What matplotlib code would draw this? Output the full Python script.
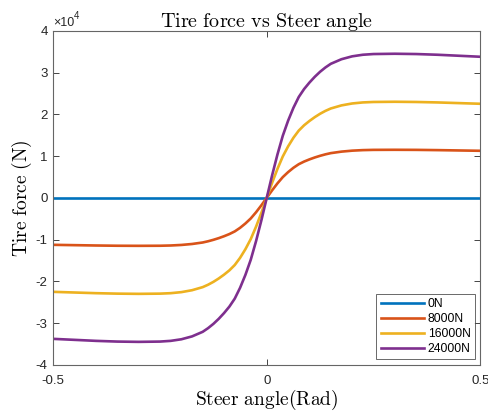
import matplotlib
matplotlib.use("Agg")
import matplotlib.pyplot as plt
import numpy as np

# angolo di sterzo [rad] e forza laterale [N]
steer = [-0.5, -0.45, -0.4, -0.35, -0.3, -0.25, -0.225, -0.2, -0.175, -0.15,
         -0.1375, -0.125, -0.1125, -0.1, -0.0875, -0.075, -0.0625, -0.05,
         -0.0375, -0.025, -0.0125, 0.0, 0.0125, 0.025, 0.0375, 0.05, 0.0625,
         0.075, 0.0875, 0.1, 0.1125, 0.125, 0.1375, 0.15, 0.175, 0.2, 0.225,
         0.25, 0.3, 0.35, 0.4, 0.45, 0.5]

f_0N = [0.0] * 43

f_8000N = [-11260, -11340, -11420, -11480, -11500, -11480, -11420, -11290, -11060, -10700,
           -10410, -10060, -9660, -9200, -8680, -8050, -7190, -6150,
           -4950, -3450, -1780, 0, 1780, 3450, 4950, 6150, 7190,
           8050, 8680, 9200, 9660, 10060, 10410, 10700, 11060, 11290, 11420,
           11480, 11500, 11480, 11420, 11340, 11260]

f_16000N = [-22520, -22680, -22840, -22950, -23000, -22950, -22840, -22590, -22130, -21390,
            -20820, -20130, -19320, -18400, -17370, -16100, -14380, -12310,
            -9890, -6900, -3570, 0, 3570, 6900, 9890, 12310, 14380,
            16100, 17370, 18400, 19320, 20130, 20820, 21390, 22130, 22590, 22840,
            22950, 23000, 22950, 22840, 22680, 22520]

f_24000N = [-33780, -34020, -34260, -34430, -34500, -34430, -34260, -33880, -33190, -32090,
            -31220, -30190, -28980, -27600, -26050, -24150, -21560, -18460,
            -14840, -10350, -5350, 0, 5350, 10350, 14840, 18460, 21560,
            24150, 26050, 27600, 28980, 30190, 31220, 32090, 33190, 33880, 34260,
            34430, 34500, 34430, 34260, 34020, 33780]

carichi = ["0N", "8000N", "16000N", "24000N"]
colori = ["#0072BD", "#D95319", "#EDB120", "#7E2F8E"]

plt.rcParams['mathtext.fontset'] = 'cm'
plt.rcParams['font.family'] = ['Liberation Sans', 'DejaVu Sans']

fig = plt.figure(figsize=(4.89, 4.16), dpi=100)
ax = fig.add_axes([0.109, 0.123, 0.873, 0.803])

for f, nome, c in zip([f_0N, f_8000N, f_16000N, f_24000N], carichi, colori):
    ax.plot(steer, f, "-", color=c, lw=1.9, label=nome)

ax.set_xlim(-0.5, 0.5)
ax.set_ylim(-40000, 40000)
ax.set_xticks([-0.5, 0, 0.5])
ax.set_xticklabels(["-0.5", "0", "0.5"])
ax.set_yticks(np.arange(-40000, 40001, 10000))
ax.set_yticklabels(["-4", "-3", "-2", "-1", "0", "1", "2", "3", "4"])
ax.text(0.0, 1.004, "×10", transform=ax.transAxes, fontsize=9,
        color="#262626", ha="left", va="bottom")
ax.text(0.049, 1.03, "4", transform=ax.transAxes, fontsize=7,
        color="#262626", ha="left", va="bottom")

ax.tick_params(direction="in", top=True, right=True, length=4, width=0.6,
               labelsize=9.5, colors="#262626")
ax.tick_params(axis="x", pad=7)
ax.tick_params(axis="y", pad=4)
for s in ax.spines.values():
    s.set_color("#666666")
    s.set_linewidth(0.8)

ax.set_title(r"$\mathrm{Tire\ force\ vs\ Steer\ angle}$", fontsize=14.5, pad=3)
ax.set_xlabel(r"$\mathrm{Steer\ angle(Rad)}$", fontsize=14, labelpad=1)
ax.set_ylabel(r"$\mathrm{Tire\ force\ (N)}$", fontsize=14, labelpad=1)

leg = ax.legend(loc="lower right", fontsize=8.7, frameon=True, fancybox=False,
                handlelength=3.6, borderpad=0.35, labelspacing=0.25,
                handletextpad=0.3, borderaxespad=0.45)
leg.get_frame().set_edgecolor("#262626")
leg.get_frame().set_linewidth(0.6)

fig.savefig("out.png", dpi=100)
